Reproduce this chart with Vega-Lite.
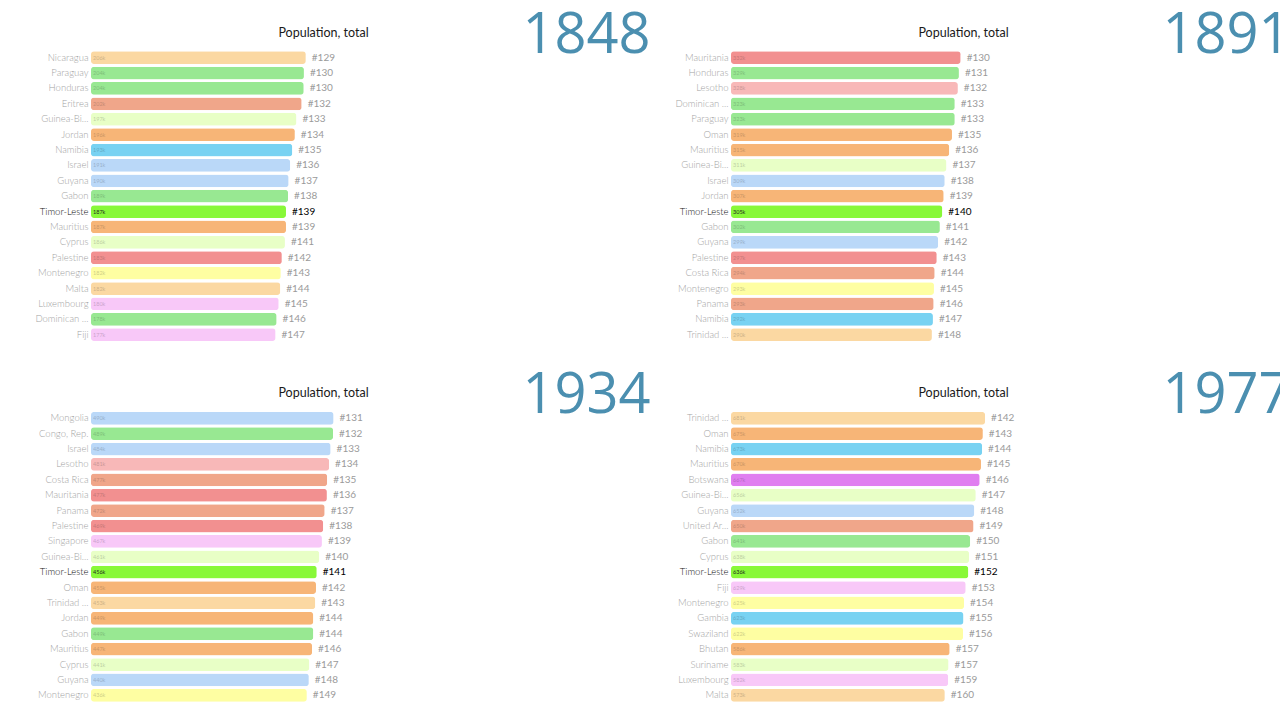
{
  "$schema": "https://vega.github.io/schema/vega-lite/v6.json",
  "autosize": {"type": "none"},
  "padding": {"left": 91, "top": 50, "right": 1189, "bottom": 670},
  "background": "white",
  "config": {"view": {"stroke": null}, "axis": {"grid": false}, "font": "Lato"},
  "datasets": {
    "rows": [
      {"year": 1848, "pos": 1, "country": "Nicaragua", "value": 206000, "rank": 129},
      {"year": 1848, "pos": 2, "country": "Paraguay", "value": 204200, "rank": 130},
      {"year": 1848, "pos": 3, "country": "Honduras", "value": 204000, "rank": 130},
      {"year": 1848, "pos": 4, "country": "Eritrea", "value": 202000, "rank": 132},
      {"year": 1848, "pos": 5, "country": "Guinea-Bi...", "value": 197000, "rank": 133},
      {"year": 1848, "pos": 6, "country": "Jordan", "value": 195500, "rank": 134},
      {"year": 1848, "pos": 7, "country": "Namibia", "value": 193000, "rank": 135},
      {"year": 1848, "pos": 8, "country": "Israel", "value": 191000, "rank": 136},
      {"year": 1848, "pos": 9, "country": "Guyana", "value": 189500, "rank": 137},
      {"year": 1848, "pos": 10, "country": "Gabon", "value": 189000, "rank": 138},
      {"year": 1848, "pos": 11, "country": "Timor-Leste", "value": 187000, "rank": 139},
      {"year": 1848, "pos": 12, "country": "Mauritius", "value": 187000, "rank": 139},
      {"year": 1848, "pos": 13, "country": "Cyprus", "value": 186000, "rank": 141},
      {"year": 1848, "pos": 14, "country": "Palestine", "value": 183000, "rank": 142},
      {"year": 1848, "pos": 15, "country": "Montenegro", "value": 182000, "rank": 143},
      {"year": 1848, "pos": 16, "country": "Malta", "value": 181500, "rank": 144},
      {"year": 1848, "pos": 17, "country": "Luxembourg", "value": 180000, "rank": 145},
      {"year": 1848, "pos": 18, "country": "Dominican ...", "value": 178000, "rank": 146},
      {"year": 1848, "pos": 19, "country": "Fiji", "value": 177000, "rank": 147},

      {"year": 1891, "pos": 1, "country": "Mauritania", "value": 331500, "rank": 130},
      {"year": 1891, "pos": 2, "country": "Honduras", "value": 329000, "rank": 131},
      {"year": 1891, "pos": 3, "country": "Lesotho", "value": 327500, "rank": 132},
      {"year": 1891, "pos": 4, "country": "Dominican ...", "value": 323000, "rank": 133},
      {"year": 1891, "pos": 5, "country": "Paraguay", "value": 323000, "rank": 133},
      {"year": 1891, "pos": 6, "country": "Oman", "value": 319000, "rank": 135},
      {"year": 1891, "pos": 7, "country": "Mauritius", "value": 315000, "rank": 136},
      {"year": 1891, "pos": 8, "country": "Guinea-Bi...", "value": 311000, "rank": 137},
      {"year": 1891, "pos": 9, "country": "Israel", "value": 308500, "rank": 138},
      {"year": 1891, "pos": 10, "country": "Jordan", "value": 307000, "rank": 139},
      {"year": 1891, "pos": 11, "country": "Timor-Leste", "value": 305000, "rank": 140},
      {"year": 1891, "pos": 12, "country": "Gabon", "value": 301500, "rank": 141},
      {"year": 1891, "pos": 13, "country": "Guyana", "value": 299000, "rank": 142},
      {"year": 1891, "pos": 14, "country": "Palestine", "value": 297000, "rank": 143},
      {"year": 1891, "pos": 15, "country": "Costa Rica", "value": 294000, "rank": 144},
      {"year": 1891, "pos": 16, "country": "Montenegro", "value": 293000, "rank": 145},
      {"year": 1891, "pos": 17, "country": "Panama", "value": 292500, "rank": 146},
      {"year": 1891, "pos": 18, "country": "Namibia", "value": 291500, "rank": 147},
      {"year": 1891, "pos": 19, "country": "Trinidad ...", "value": 290000, "rank": 148},

      {"year": 1934, "pos": 1, "country": "Mongolia", "value": 490000, "rank": 131},
      {"year": 1934, "pos": 2, "country": "Congo, Rep.", "value": 489000, "rank": 132},
      {"year": 1934, "pos": 3, "country": "Israel", "value": 484000, "rank": 133},
      {"year": 1934, "pos": 4, "country": "Lesotho", "value": 481000, "rank": 134},
      {"year": 1934, "pos": 5, "country": "Costa Rica", "value": 477000, "rank": 135},
      {"year": 1934, "pos": 6, "country": "Mauritania", "value": 476500, "rank": 136},
      {"year": 1934, "pos": 7, "country": "Panama", "value": 472000, "rank": 137},
      {"year": 1934, "pos": 8, "country": "Palestine", "value": 469000, "rank": 138},
      {"year": 1934, "pos": 9, "country": "Singapore", "value": 466500, "rank": 139},
      {"year": 1934, "pos": 10, "country": "Guinea-Bi...", "value": 461000, "rank": 140},
      {"year": 1934, "pos": 11, "country": "Timor-Leste", "value": 456000, "rank": 141},
      {"year": 1934, "pos": 12, "country": "Oman", "value": 454500, "rank": 142},
      {"year": 1934, "pos": 13, "country": "Trinidad ...", "value": 453000, "rank": 143},
      {"year": 1934, "pos": 14, "country": "Jordan", "value": 449000, "rank": 144},
      {"year": 1934, "pos": 15, "country": "Gabon", "value": 449000, "rank": 144},
      {"year": 1934, "pos": 16, "country": "Mauritius", "value": 446500, "rank": 146},
      {"year": 1934, "pos": 17, "country": "Cyprus", "value": 441000, "rank": 147},
      {"year": 1934, "pos": 18, "country": "Guyana", "value": 440000, "rank": 148},
      {"year": 1934, "pos": 19, "country": "Montenegro", "value": 436000, "rank": 149},

      {"year": 1977, "pos": 1, "country": "Trinidad ...", "value": 681000, "rank": 142},
      {"year": 1977, "pos": 2, "country": "Oman", "value": 675000, "rank": 143},
      {"year": 1977, "pos": 3, "country": "Namibia", "value": 673000, "rank": 144},
      {"year": 1977, "pos": 4, "country": "Mauritius", "value": 670000, "rank": 145},
      {"year": 1977, "pos": 5, "country": "Botswana", "value": 666500, "rank": 146},
      {"year": 1977, "pos": 6, "country": "Guinea-Bi...", "value": 656000, "rank": 147},
      {"year": 1977, "pos": 7, "country": "Guyana", "value": 652000, "rank": 148},
      {"year": 1977, "pos": 8, "country": "United Ar...", "value": 650000, "rank": 149},
      {"year": 1977, "pos": 9, "country": "Gabon", "value": 641000, "rank": 150},
      {"year": 1977, "pos": 10, "country": "Cyprus", "value": 638000, "rank": 151},
      {"year": 1977, "pos": 11, "country": "Timor-Leste", "value": 636000, "rank": 152},
      {"year": 1977, "pos": 12, "country": "Fiji", "value": 629000, "rank": 153},
      {"year": 1977, "pos": 13, "country": "Montenegro", "value": 624500, "rank": 154},
      {"year": 1977, "pos": 14, "country": "Gambia", "value": 623000, "rank": 155},
      {"year": 1977, "pos": 15, "country": "Swaziland", "value": 622000, "rank": 156},
      {"year": 1977, "pos": 16, "country": "Bhutan", "value": 586000, "rank": 157},
      {"year": 1977, "pos": 17, "country": "Suriname", "value": 583000, "rank": 157},
      {"year": 1977, "pos": 18, "country": "Luxembourg", "value": 582000, "rank": 159},
      {"year": 1977, "pos": 19, "country": "Malta", "value": 573000, "rank": 160}
    ]
  },
  "columns": 2,
  "bounds": "flush",
  "spacing": {"column": 91, "row": 67.6},
  "concat": [
    {
      "width": 549, "height": 292.4,
      "data": {"name": "rows"},
      "transform": [{"filter": "datum.year == 1848"}, {"calculate": "'#' + datum.rank", "as": "rankLabel"}],
      "encoding": {
        "y": {"field": "country", "type": "nominal", "sort": {"field": "pos", "op": "min"},
          "scale": {"paddingInner": 0.17, "paddingOuter": 0.085},
          "axis": {"title": "1848", "titleX": 431, "titleY": 2, "titleAngle": 0, "titleAlign": "left", "titleBaseline": "alphabetic", "titleFontSize": 56, "titleFontWeight": "normal", "titleColor": "#4b8fb0", "titleFont": "Open Sans",
            "domain": false, "ticks": false, "tickSize": 0, "labelPadding": 3, "labelFontSize": 9.5, "labelFont": "Lato", "labelFontWeight": 300, "labelLimit": 200,
            "labelColor": {"condition": {"test": "datum.value === 'Timor-Leste'", "value": "#111111"}, "value": "#a3a3a3"}}},
        "x": {"field": "value", "type": "quantitative", "scale": {"domain": [0, 526500], "nice": false, "zero": true},
          "axis": {"orient": "top", "title": "Population, total", "titleX": 232, "titleY": -14, "titleAlign": "center", "titleBaseline": "alphabetic", "titleFontSize": 12.5, "titleFontWeight": "normal", "titleColor": "#1a1a1a", "titleFont": "Lato", "labels": true, "values": [], "ticks": false, "domain": false, "grid": false}}
      },
      "layer": [
        {"mark": {"type": "bar", "cornerRadius": 3},
          "encoding": {"color": {"field": "country", "type": "nominal", "legend": null,
            "scale": {"domain": ["Nicaragua","Paraguay","Honduras","Eritrea","Guinea-Bi...","Jordan","Namibia","Israel","Guyana","Gabon","Timor-Leste","Mauritius","Cyprus","Palestine","Montenegro","Malta","Luxembourg","Dominican ...","Fiji","Mauritania","Lesotho","Oman","Costa Rica","Panama","Trinidad ...","Mongolia","Congo, Rep.","Singapore","Botswana","United Ar...","Gambia","Swaziland","Bhutan","Suriname"],
              "range": ["#fbd8a2","#98e892","#98e892","#f0a68a","#e8ffc6","#f7b577","#78d2f2","#bad8f8","#bad8f8","#98e892","#88f838","#f7b577","#e8ffc6","#f29090","#fefea2","#fbd8a2","#f8c8f8","#98e892","#f8c8f8","#f29090","#f8b8b8","#f7b577","#f0a68a","#f0a68a","#fbd8a2","#bad8f8","#98e892","#f8c8f8","#e07ef0","#f0a68a","#78d2f2","#fefea2","#f7b577","#e8ffc6"]}}}},
        {"mark": {"type": "text", "align": "left", "baseline": "middle", "dx": 2, "fontSize": 5.5, "color": "#222222"},
          "encoding": {"x": {"datum": 0, "type": "quantitative"}, "text": {"field": "value", "format": ".3s"},
            "opacity": {"condition": {"test": "datum.country === 'Timor-Leste'", "value": 0.95}, "value": 0.22}}},
        {"mark": {"type": "text", "align": "left", "baseline": "middle", "dx": 6, "fontSize": 10},
          "encoding": {"text": {"field": "rankLabel"},
            "color": {"condition": {"test": "datum.country === 'Timor-Leste'", "value": "#000000"}, "value": "#9a9a9a"},
            "fontWeight": {"condition": {"test": "datum.country === 'Timor-Leste'", "value": "bold"}, "value": "normal"}}}
      ]
    },
    {
      "width": 549, "height": 292.4,
      "data": {"name": "rows"},
      "transform": [{"filter": "datum.year == 1891"}, {"calculate": "'#' + datum.rank", "as": "rankLabel"}],
      "encoding": {
        "y": {"field": "country", "type": "nominal", "sort": {"field": "pos", "op": "min"},
          "scale": {"paddingInner": 0.17, "paddingOuter": 0.085},
          "axis": {"title": "1891", "titleX": 431, "titleY": 2, "titleAngle": 0, "titleAlign": "left", "titleBaseline": "alphabetic", "titleFontSize": 56, "titleFontWeight": "normal", "titleColor": "#4b8fb0", "titleFont": "Open Sans",
            "domain": false, "ticks": false, "tickSize": 0, "labelPadding": 3, "labelFontSize": 9.5, "labelFont": "Lato", "labelFontWeight": 300, "labelLimit": 200,
            "labelColor": {"condition": {"test": "datum.value === 'Timor-Leste'", "value": "#111111"}, "value": "#a3a3a3"}}},
        "x": {"field": "value", "type": "quantitative", "scale": {"domain": [0, 792500], "nice": false, "zero": true},
          "axis": {"orient": "top", "title": "Population, total", "titleX": 232, "titleY": -14, "titleAlign": "center", "titleBaseline": "alphabetic", "titleFontSize": 12.5, "titleFontWeight": "normal", "titleColor": "#1a1a1a", "titleFont": "Lato", "labels": true, "values": [], "ticks": false, "domain": false, "grid": false}}
      },
      "layer": [
        {"mark": {"type": "bar", "cornerRadius": 3},
          "encoding": {"color": {"field": "country", "type": "nominal", "legend": null,
            "scale": {"domain": ["Nicaragua","Paraguay","Honduras","Eritrea","Guinea-Bi...","Jordan","Namibia","Israel","Guyana","Gabon","Timor-Leste","Mauritius","Cyprus","Palestine","Montenegro","Malta","Luxembourg","Dominican ...","Fiji","Mauritania","Lesotho","Oman","Costa Rica","Panama","Trinidad ...","Mongolia","Congo, Rep.","Singapore","Botswana","United Ar...","Gambia","Swaziland","Bhutan","Suriname"],
              "range": ["#fbd8a2","#98e892","#98e892","#f0a68a","#e8ffc6","#f7b577","#78d2f2","#bad8f8","#bad8f8","#98e892","#88f838","#f7b577","#e8ffc6","#f29090","#fefea2","#fbd8a2","#f8c8f8","#98e892","#f8c8f8","#f29090","#f8b8b8","#f7b577","#f0a68a","#f0a68a","#fbd8a2","#bad8f8","#98e892","#f8c8f8","#e07ef0","#f0a68a","#78d2f2","#fefea2","#f7b577","#e8ffc6"]}}}},
        {"mark": {"type": "text", "align": "left", "baseline": "middle", "dx": 2, "fontSize": 5.5, "color": "#222222"},
          "encoding": {"x": {"datum": 0, "type": "quantitative"}, "text": {"field": "value", "format": ".3s"},
            "opacity": {"condition": {"test": "datum.country === 'Timor-Leste'", "value": 0.95}, "value": 0.22}}},
        {"mark": {"type": "text", "align": "left", "baseline": "middle", "dx": 6, "fontSize": 10},
          "encoding": {"text": {"field": "rankLabel"},
            "color": {"condition": {"test": "datum.country === 'Timor-Leste'", "value": "#000000"}, "value": "#9a9a9a"},
            "fontWeight": {"condition": {"test": "datum.country === 'Timor-Leste'", "value": "bold"}, "value": "normal"}}}
      ]
    },
    {
      "width": 549, "height": 292.4,
      "data": {"name": "rows"},
      "transform": [{"filter": "datum.year == 1934"}, {"calculate": "'#' + datum.rank", "as": "rankLabel"}],
      "encoding": {
        "y": {"field": "country", "type": "nominal", "sort": {"field": "pos", "op": "min"},
          "scale": {"paddingInner": 0.17, "paddingOuter": 0.085},
          "axis": {"title": "1934", "titleX": 431, "titleY": 2, "titleAngle": 0, "titleAlign": "left", "titleBaseline": "alphabetic", "titleFontSize": 56, "titleFontWeight": "normal", "titleColor": "#4b8fb0", "titleFont": "Open Sans",
            "domain": false, "ticks": false, "tickSize": 0, "labelPadding": 3, "labelFontSize": 9.5, "labelFont": "Lato", "labelFontWeight": 300, "labelLimit": 200,
            "labelColor": {"condition": {"test": "datum.value === 'Timor-Leste'", "value": "#111111"}, "value": "#a3a3a3"}}},
        "x": {"field": "value", "type": "quantitative", "scale": {"domain": [0, 1109000], "nice": false, "zero": true},
          "axis": {"orient": "top", "title": "Population, total", "titleX": 232, "titleY": -14, "titleAlign": "center", "titleBaseline": "alphabetic", "titleFontSize": 12.5, "titleFontWeight": "normal", "titleColor": "#1a1a1a", "titleFont": "Lato", "labels": true, "values": [], "ticks": false, "domain": false, "grid": false}}
      },
      "layer": [
        {"mark": {"type": "bar", "cornerRadius": 3},
          "encoding": {"color": {"field": "country", "type": "nominal", "legend": null,
            "scale": {"domain": ["Nicaragua","Paraguay","Honduras","Eritrea","Guinea-Bi...","Jordan","Namibia","Israel","Guyana","Gabon","Timor-Leste","Mauritius","Cyprus","Palestine","Montenegro","Malta","Luxembourg","Dominican ...","Fiji","Mauritania","Lesotho","Oman","Costa Rica","Panama","Trinidad ...","Mongolia","Congo, Rep.","Singapore","Botswana","United Ar...","Gambia","Swaziland","Bhutan","Suriname"],
              "range": ["#fbd8a2","#98e892","#98e892","#f0a68a","#e8ffc6","#f7b577","#78d2f2","#bad8f8","#bad8f8","#98e892","#88f838","#f7b577","#e8ffc6","#f29090","#fefea2","#fbd8a2","#f8c8f8","#98e892","#f8c8f8","#f29090","#f8b8b8","#f7b577","#f0a68a","#f0a68a","#fbd8a2","#bad8f8","#98e892","#f8c8f8","#e07ef0","#f0a68a","#78d2f2","#fefea2","#f7b577","#e8ffc6"]}}}},
        {"mark": {"type": "text", "align": "left", "baseline": "middle", "dx": 2, "fontSize": 5.5, "color": "#222222"},
          "encoding": {"x": {"datum": 0, "type": "quantitative"}, "text": {"field": "value", "format": ".3s"},
            "opacity": {"condition": {"test": "datum.country === 'Timor-Leste'", "value": 0.95}, "value": 0.22}}},
        {"mark": {"type": "text", "align": "left", "baseline": "middle", "dx": 6, "fontSize": 10},
          "encoding": {"text": {"field": "rankLabel"},
            "color": {"condition": {"test": "datum.country === 'Timor-Leste'", "value": "#000000"}, "value": "#9a9a9a"},
            "fontWeight": {"condition": {"test": "datum.country === 'Timor-Leste'", "value": "bold"}, "value": "normal"}}}
      ]
    },
    {
      "width": 549, "height": 292.4,
      "data": {"name": "rows"},
      "transform": [{"filter": "datum.year == 1977"}, {"calculate": "'#' + datum.rank", "as": "rankLabel"}],
      "encoding": {
        "y": {"field": "country", "type": "nominal", "sort": {"field": "pos", "op": "min"},
          "scale": {"paddingInner": 0.17, "paddingOuter": 0.085},
          "axis": {"title": "1977", "titleX": 431, "titleY": 2, "titleAngle": 0, "titleAlign": "left", "titleBaseline": "alphabetic", "titleFontSize": 56, "titleFontWeight": "normal", "titleColor": "#4b8fb0", "titleFont": "Open Sans",
            "domain": false, "ticks": false, "tickSize": 0, "labelPadding": 3, "labelFontSize": 9.5, "labelFont": "Lato", "labelFontWeight": 300, "labelLimit": 200,
            "labelColor": {"condition": {"test": "datum.value === 'Timor-Leste'", "value": "#111111"}, "value": "#a3a3a3"}}},
        "x": {"field": "value", "type": "quantitative", "scale": {"domain": [0, 1471400], "nice": false, "zero": true},
          "axis": {"orient": "top", "title": "Population, total", "titleX": 232, "titleY": -14, "titleAlign": "center", "titleBaseline": "alphabetic", "titleFontSize": 12.5, "titleFontWeight": "normal", "titleColor": "#1a1a1a", "titleFont": "Lato", "labels": true, "values": [], "ticks": false, "domain": false, "grid": false}}
      },
      "layer": [
        {"mark": {"type": "bar", "cornerRadius": 3},
          "encoding": {"color": {"field": "country", "type": "nominal", "legend": null,
            "scale": {"domain": ["Nicaragua","Paraguay","Honduras","Eritrea","Guinea-Bi...","Jordan","Namibia","Israel","Guyana","Gabon","Timor-Leste","Mauritius","Cyprus","Palestine","Montenegro","Malta","Luxembourg","Dominican ...","Fiji","Mauritania","Lesotho","Oman","Costa Rica","Panama","Trinidad ...","Mongolia","Congo, Rep.","Singapore","Botswana","United Ar...","Gambia","Swaziland","Bhutan","Suriname"],
              "range": ["#fbd8a2","#98e892","#98e892","#f0a68a","#e8ffc6","#f7b577","#78d2f2","#bad8f8","#bad8f8","#98e892","#88f838","#f7b577","#e8ffc6","#f29090","#fefea2","#fbd8a2","#f8c8f8","#98e892","#f8c8f8","#f29090","#f8b8b8","#f7b577","#f0a68a","#f0a68a","#fbd8a2","#bad8f8","#98e892","#f8c8f8","#e07ef0","#f0a68a","#78d2f2","#fefea2","#f7b577","#e8ffc6"]}}}},
        {"mark": {"type": "text", "align": "left", "baseline": "middle", "dx": 2, "fontSize": 5.5, "color": "#222222"},
          "encoding": {"x": {"datum": 0, "type": "quantitative"}, "text": {"field": "value", "format": ".3s"},
            "opacity": {"condition": {"test": "datum.country === 'Timor-Leste'", "value": 0.95}, "value": 0.22}}},
        {"mark": {"type": "text", "align": "left", "baseline": "middle", "dx": 6, "fontSize": 10},
          "encoding": {"text": {"field": "rankLabel"},
            "color": {"condition": {"test": "datum.country === 'Timor-Leste'", "value": "#000000"}, "value": "#9a9a9a"},
            "fontWeight": {"condition": {"test": "datum.country === 'Timor-Leste'", "value": "bold"}, "value": "normal"}}}
      ]
    }
  ]
}
